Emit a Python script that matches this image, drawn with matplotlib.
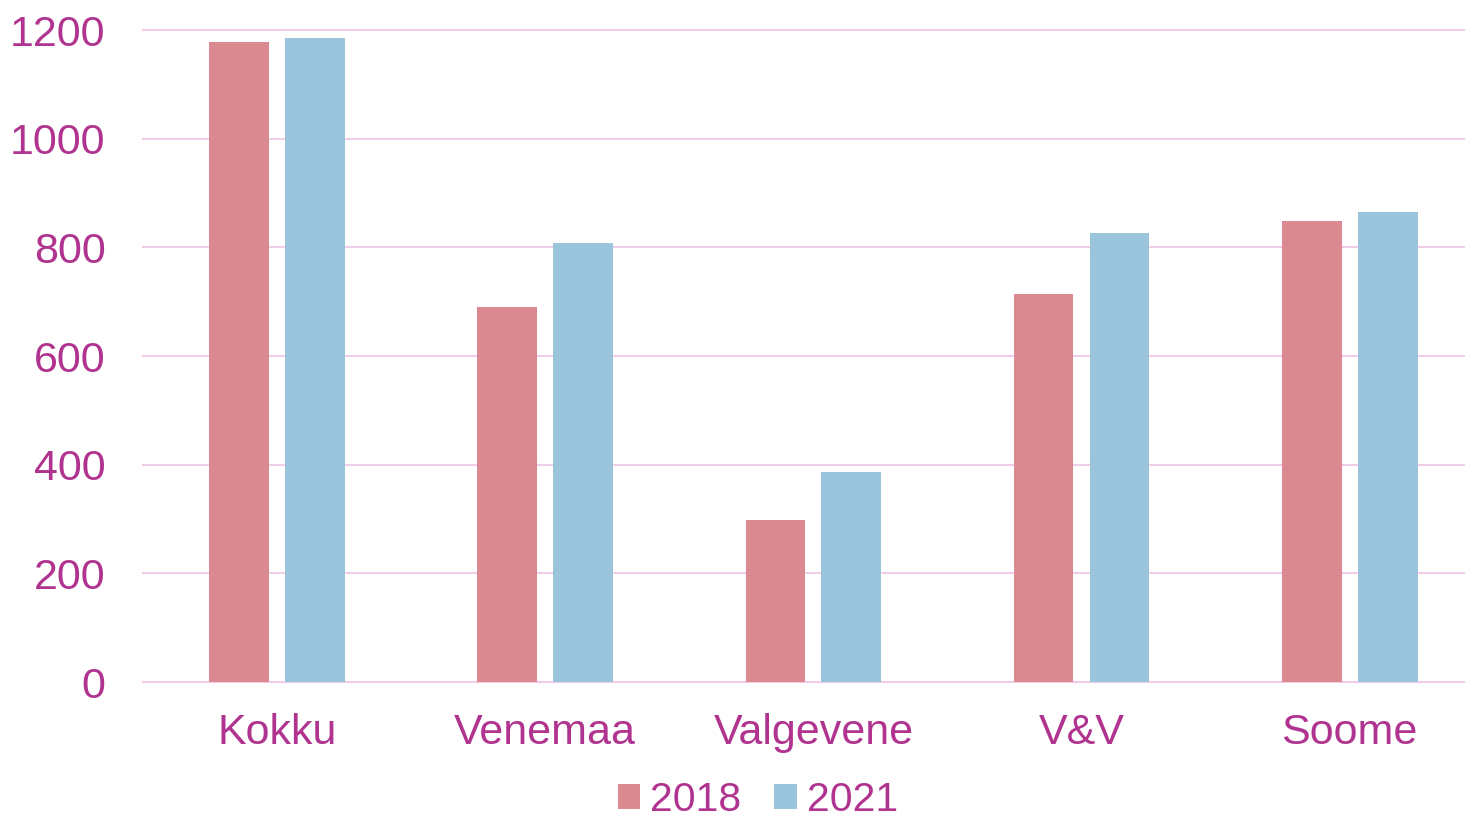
import matplotlib
matplotlib.use("Agg")
import matplotlib.pyplot as plt
import numpy as np

categories = ["Kokku", "Venemaa", "Valgevene", "V&V", "Soome"]
years = ["2018", "2021"]
values_2018 = [1178, 690, 298, 714, 848]
values_2021 = [1185, 808, 386, 826, 865]
yticks = [0, 200, 400, 600, 800, 1000, 1200]

text_color = "#B0348F"
grid_color = "#F2CDEA"
colors = ["#DB8990", "#9BC5DC"]

plt.rcParams["font.family"] = ["Liberation Sans", "DejaVu Sans"]

fig = plt.figure(figsize=(14.65, 8.19), dpi=100)
ax = fig.add_axes([143 / 1465, 1 - 682 / 819, 1 - 143 / 1465, (682 - 30) / 819])

x = np.arange(len(categories))
w = 0.223
ax.bar(x - 0.1415, values_2018, w, color=colors[0], label=years[0], zorder=3)
ax.bar(x + 0.1415, values_2021, w, color=colors[1], label=years[1], zorder=3)

# plot area runs a bit past the right edge of the image
ax.set_xlim(-0.5, 4.43)
ax.set_ylim(0, 1200)
ax.set_yticks(yticks)
ax.set_xticks(x)
ax.set_xticklabels(categories)

for t in yticks:
    ax.axhline(t, color=grid_color, lw=1.5, zorder=1, clip_on=False)

for s in ax.spines.values():
    s.set_visible(False)
ax.tick_params(axis="both", length=0, labelsize=31, colors=text_color)
ax.tick_params(axis="y", pad=27)
ax.tick_params(axis="x", pad=22)

leg = fig.legend(loc="center", bbox_to_anchor=(758 / 1465, 1 - 800 / 819), ncol=2,
                 frameon=False, fontsize=29.5, handlelength=0.55, handleheight=0.55,
                 handletextpad=0.25, columnspacing=0.8, borderpad=0.1)
for t in leg.get_texts():
    t.set_color(text_color)

fig.savefig("out.png", dpi=100)
